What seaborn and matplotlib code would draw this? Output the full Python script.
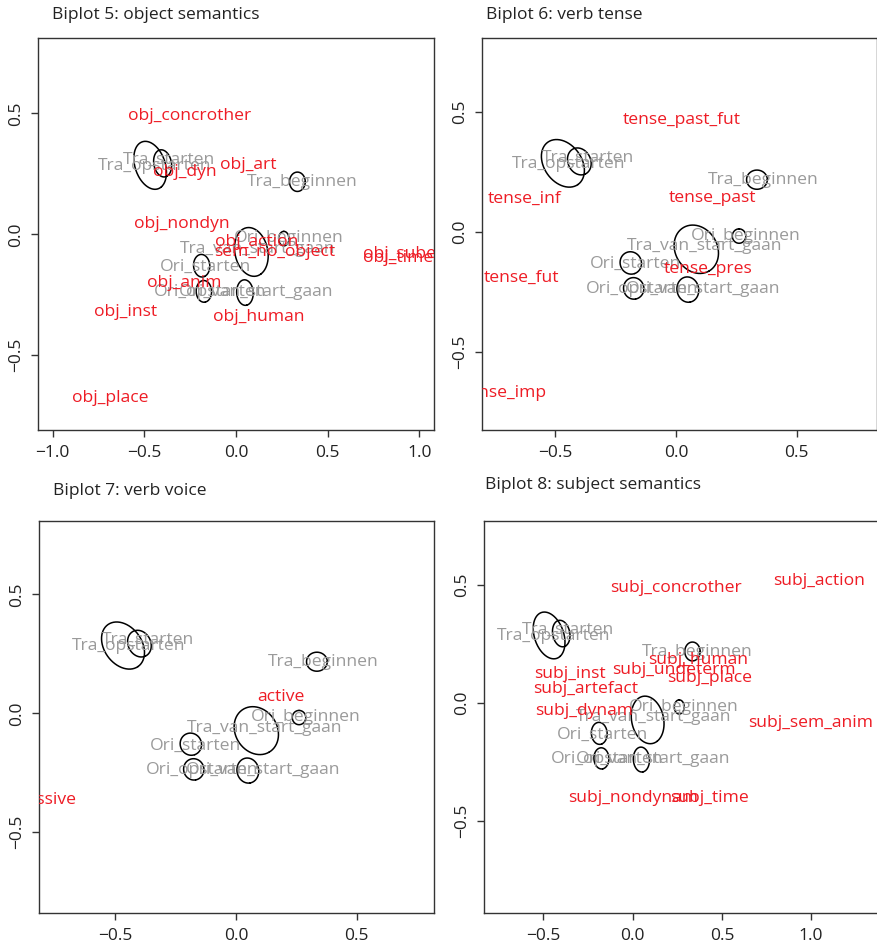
import numpy as np
import pandas as pd
import matplotlib
matplotlib.use("Agg")
import matplotlib.pyplot as plt
import seaborn as sns

# ---- verbs (grey labels) and their confidence ellipses ----
verbs = ["Tra_opstarten", "Tra_starten", "Tra_beginnen", "Ori_beginnen",
         "Tra_van_start_gaan", "Ori_starten", "Ori_opstarten", "Ori_van_start_gaan"]
verb_x = [-0.445, -0.364, 0.362, 0.289, 0.117, -0.168, -0.142, 0.112]
verb_y = [0.282, 0.308, 0.215, -0.017, -0.060, -0.135, -0.239, -0.239]

ell_x = [-0.468, -0.400, 0.335, 0.261, 0.084, -0.187, -0.175, 0.049]
ell_y = [0.285, 0.293, 0.217, -0.018, -0.073, -0.130, -0.236, -0.241]
ell_a = [0.108, 0.058, 0.043, 0.030, 0.105, 0.047, 0.045, 0.053]
ell_b = [0.078, 0.047, 0.040, 0.028, 0.087, 0.044, 0.042, 0.045]
ell_angle = [-55, -65, 0, 90, -60, -70, -80, -80]

# ---- Biplot 5: object semantics ----
obj_labels = ["obj_concrother", "obj_art", "obj_dyn", "obj_nondyn", "obj_action",
              "sem_no_object", "obj_subevent", "obj_time", "obj_anim", "obj_inst",
              "obj_human", "obj_place"]
obj_x = [-0.253, 0.067, -0.280, -0.294, 0.113, 0.213, 0.990, 0.886, -0.280, -0.604, 0.126, -0.686]
obj_y = [0.490, 0.286, 0.259, 0.041, -0.030, -0.072, -0.081, -0.099, -0.203, -0.322, -0.340, -0.678]

# ---- Biplot 6: verb tense ----
tense_labels = ["tense_past_fut", "tense_inf", "tense_past", "tense_pres", "tense_fut", "tense_imp"]
tense_x = [0.023, -0.625, 0.152, 0.132, -0.641, -0.710]
tense_y = [0.465, 0.139, 0.139, -0.157, -0.192, -0.673]

# ---- Biplot 7: verb voice ----
voice_labels = ["active", "passive"]
voice_x = [0.186, -0.785]
voice_y = [0.070, -0.365]

# ---- Biplot 8: subject semantics ----
subj_labels = ["subj_concrother", "subj_action", "subj_human", "subj_inst", "subj_undeterm",
               "subj_place", "subj_artefact", "subj_dynam", "subj_sem_anim",
               "subj_nondynam", "subj_time"]
subj_x = [0.243, 1.044, 0.366, -0.351, 0.230, 0.431, -0.264, -0.271, 0.995, 0.002, 0.431]
subj_y = [0.485, 0.516, 0.181, 0.120, 0.139, 0.103, 0.058, -0.034, -0.087, -0.405, -0.405]

panels = [
    dict(title="Biplot 5: object semantics", labels=obj_labels, x=obj_x, y=obj_y,
         pos=(38.3, 38.3, 434.0, 430.0), xlim=(-1.078, 1.080), ylim=(-0.809, 0.810),
         xticks=[-1.0, -0.5, 0.0, 0.5, 1.0], title_xy=(52, 15)),
    dict(title="Biplot 6: verb tense", labels=tense_labels, x=tense_x, y=tense_y,
         pos=(481.7, 38.3, 877.3, 430.0), xlim=(-0.804, 0.833), ylim=(-0.826, 0.806),
         xticks=[-0.5, 0.0, 0.5], title_xy=(486, 15)),
    dict(title="Biplot 7: verb voice", labels=voice_labels, x=voice_x, y=voice_y,
         pos=(39.0, 521.0, 434.0, 912.7), xlim=(-0.816, 0.820), ylim=(-0.839, 0.809),
         xticks=[-0.5, 0.0, 0.5], title_xy=(53, 491)),
    dict(title="Biplot 8: subject semantics", labels=subj_labels, x=subj_x, y=subj_y,
         pos=(484.3, 521.0, 891.5, 912.7), xlim=(-0.831, 1.450), ylim=(-0.890, 0.770),
         xticks=[-0.5, 0.0, 0.5, 1.0], title_xy=(485, 485)),
]

W, H = 878, 948
sns.set_theme(style="white")
plt.rcParams["font.family"] = ["Open Sans", "DejaVu Sans"]
plt.rcParams["axes.unicode_minus"] = True

fig = plt.figure(figsize=(W / 100, H / 100), dpi=100)
fig.patch.set_facecolor("white")

RED = "#ee1c25"
GREY = "#9a9a9a"
INK = "#222222"
LABEL_SIZE = 12.6

# ellipse outlines as a long table for seaborn
t = np.linspace(0, 2 * np.pi, 181)
rows = []
for name, cx, cy, a, b, ang in zip(verbs, ell_x, ell_y, ell_a, ell_b, ell_angle):
    th = np.deg2rad(ang)
    ex = cx + a * np.cos(t) * np.cos(th) - b * np.sin(t) * np.sin(th)
    ey = cy + a * np.cos(t) * np.sin(th) + b * np.sin(t) * np.cos(th)
    rows.append(pd.DataFrame({"verb": name, "x": ex, "y": ey, "step": np.arange(len(t))}))
ellipses = pd.concat(rows, ignore_index=True)


def fmt(v):
    return f"{v:.1f}".replace("-", "\u2212")


for p in panels:
    l, tp, r, bt = p["pos"]
    ax = fig.add_axes([l / W, 1 - bt / H, (r - l) / W, (bt - tp) / H])
    ax.set_facecolor("white")

    for name, vx, vy in zip(verbs, verb_x, verb_y):
        ax.text(vx, vy, name, color=GREY, fontsize=LABEL_SIZE, ha="center", va="center",
                clip_on=True)
    for name, cx, cy in zip(p["labels"], p["x"], p["y"]):
        ax.text(cx, cy, name, color=RED, fontsize=LABEL_SIZE, ha="center", va="center",
                clip_on=True)

    sns.lineplot(data=ellipses, x="x", y="y", units="verb", estimator=None, sort=False,
                 color="black", linewidth=1.1, ax=ax, legend=False)

    ax.set_xlim(*p["xlim"])
    ax.set_ylim(*p["ylim"])
    ax.set_xlabel("")
    ax.set_ylabel("")
    ax.set_xticks(p["xticks"])
    ax.set_xticklabels([fmt(v) for v in p["xticks"]])
    yt = [-0.5, 0.0, 0.5]
    ax.set_yticks(yt)
    ax.set_yticklabels([fmt(v) for v in yt], rotation=90, va="center")
    ax.tick_params(axis="both", direction="out", length=5, width=1, color="#333333",
                   labelsize=12.5, labelcolor=INK, bottom=True, left=True)
    ax.tick_params(axis="x", pad=6)
    ax.tick_params(axis="y", pad=5)
    for s in ax.spines.values():
        s.set_color("#333333")
        s.set_linewidth(1.0)
        s.set_visible(True)
    ax.grid(False)

    tx, ty = p["title_xy"]
    fig.text(tx / W, 1 - ty / H, p["title"], fontsize=12.5, color=INK, ha="left", va="center")

fig.savefig("out.png", dpi=100, facecolor="white")
